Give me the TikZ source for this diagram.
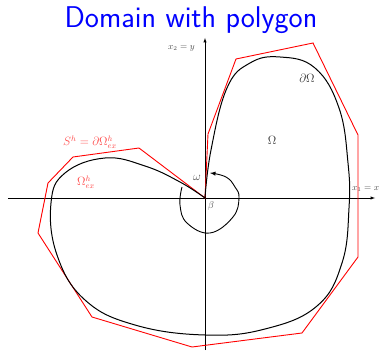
\documentclass[tikz,border=0pt]{standalone}
\usetikzlibrary{arrows}
\begin{document}
\begin{tikzpicture}[x=1pt,y=1pt]
			\useasboundingbox (-205,-152) rectangle (177,198);
			% axes
			\draw [line width=0.5pt,-latex] (-197,0) -- (170,0);
			\draw [line width=0.5pt,-latex] (0,-152) -- (0,160);
			\node (xone) [anchor=west,text=black!70,font=\small,inner sep=1pt] at (146,9) {$x_1=x$};
			\node (xtwo) [anchor=east,text=black!70,font=\small,inner sep=1pt] at (-9,150) {$x_2=y$};
			% polygon
			\draw [red,line width=0.9pt] (0,0) -- (3,64) -- (31,139) -- (108,155) -- (153,63) -- (153,-59)
				-- (97,-135) -- (-13,-149) -- (-113,-119) -- (-167,-35) -- (-157,15) -- (-132,41) -- (-66,50) -- cycle;
			% domain
			\draw [line width=1pt] plot [smooth,tension=0.7] coordinates {(0,0) (6,48) (22,110) (45,135) (75,141)
				(110,130) (134,90) (143,35) (144,-10) (137,-65) (112,-108) (60,-131) (0,-137)
				(-70,-127) (-120,-102) (-148,-57) (-154,-5) (-140,25) (-100,40) (-60,32) (-25,16) (0,0)};
			% angle
			\draw [line width=0.9pt,-latex] plot [smooth,tension=0.7] coordinates {(-23,11) (-25,-7) (-18,-25) (5,-35)
				(28,-19) (34,0) (30,11) (21,21) (5,25)};
			\node (omega) [text=black!70,font=\large,inner sep=1pt] at (-8,20) {$\omega$};
			\node (beta) [text=black!70,inner sep=1pt] at (6,-8) {$\beta$};
			\node (dom) [text=black!80,font=\large,inner sep=1pt] at (67,58) {$\Omega$};
			\node (bdry) [text=black!80,font=\large,inner sep=1pt] at (102,120) {$\partial\Omega$};
			\node (omh) [text=red!70,font=\large,inner sep=1pt] at (-119,16) {$\Omega^h_{ex}$};
			\node (sh) [text=red!70,font=\large,inner sep=1pt] at (-115,56) {$S^h=\partial\Omega^h_{ex}$};
			\node (title) [text=blue,font=\sffamily\fontsize{30}{34}\selectfont] at (-14,178) {Domain with polygon};
		\end{tikzpicture}
\end{document}
